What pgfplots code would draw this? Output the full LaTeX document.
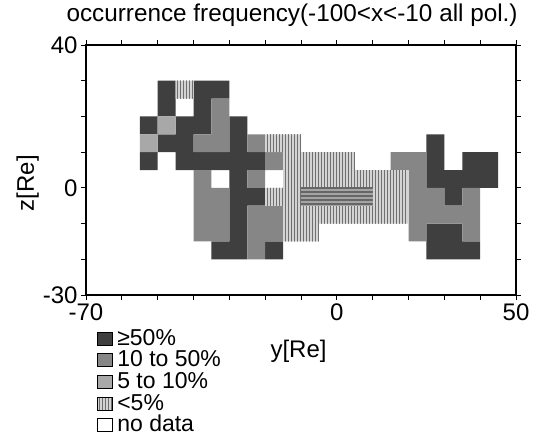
\documentclass[border=0pt]{standalone}
\usepackage{fontspec}
\setmainfont{Liberation Sans}
\usepackage{pgfplots}
\pgfplotsset{compat=1.18}
\usetikzlibrary{patterns}
\definecolor{cA}{HTML}{3F3F3F}
\definecolor{cB}{HTML}{868686}
\definecolor{cC}{HTML}{A8A8A8}
\definecolor{cStripeBg}{HTML}{D4D4D4}
\definecolor{cStripe}{HTML}{707070}
\definecolor{cBandBg}{HTML}{A4A4A4}
\definecolor{cBand}{HTML}{666666}
\pgfdeclarepatternformonly{vstripes}{\pgfqpoint{0bp}{-2bp}}{\pgfqpoint{3bp}{5bp}}{\pgfqpoint{3bp}{3bp}}{%
  \pgfpathrectangle{\pgfqpoint{0bp}{-2bp}}{\pgfqpoint{1.3bp}{7bp}}\pgfusepath{fill}}
\pgfdeclarepatternformonly{hstripes}{\pgfqpoint{-2bp}{0bp}}{\pgfqpoint{6bp}{4bp}}{\pgfqpoint{4bp}{4bp}}{%
  \pgfpathrectangle{\pgfqpoint{-2bp}{0bp}}{\pgfqpoint{8bp}{1.5bp}}\pgfusepath{fill}}
\newcommand{\fs}{\fontsize{24bp}{26bp}\selectfont}
\begin{document}
\begin{tikzpicture}
\path[use as bounding box] (0,0) rectangle (536bp,437bp);
\begin{axis}[
  at={(86bp,142bp)}, anchor=south west,
  width=430bp, height=250bp, scale only axis,
  xmin=-70, xmax=50, ymin=-30, ymax=40,
  xtick={-70,-60,...,50}, xticklabels={-70,,,,,,,0,,,,,50},
  ytick={-30,-20,...,40}, yticklabels={-30,,,0,,,,40},
  tick align=outside, major tick length=5bp,
  tick style={black, line width=0.9bp},
  axis line style={line width=1.1bp},
  tick label style={font=\fs},
  unbounded coords=jump,
  axis on top,
  title={occurrence frequency(-100<x<-10 all pol.)},
  title style={font=\fontsize{24.3bp}{26bp}\selectfont, at={(axis description cs:-0.0535,1)}, anchor=base west, yshift=18bp},
  xlabel={y[Re]},
  xlabel style={font=\fs, at={(axis description cs:0.421,0)}, anchor=base west, yshift=-62bp},
  ylabel={z[Re]},
  ylabel style={font=\fs, at={(axis description cs:0,0.448)}, anchor=base, yshift=52bp},
  legend image code/.code={\draw[#1, draw=black, line width=0.8bp] (0bp,0bp) rectangle (15bp,13bp);},
  legend style={font=\fontsize{23bp}{25bp}\selectfont, at={(axis description cs:0.0256,0)}, anchor=north west, yshift=-33bp,
    draw=none, fill=none, inner sep=0pt, outer sep=0pt, row sep=4.2bp, column sep=4bp,
    nodes={text height=16.5bp, text depth=0bp, inner sep=0.5bp},
    cells={anchor=base west}},
]
% >= 50%
\addplot[fill=cA, draw=none, forget plot] coordinates {
(-55,15)(-50,15)(-50,20)(-55,20) (nan,nan)
(-55,5)(-50,5)(-50,10)(-55,10) (nan,nan)
(-50,20)(-45,20)(-45,30)(-50,30) (nan,nan)
(-50,10)(-45,10)(-45,15)(-50,15) (nan,nan)
(-45,5)(-40,5)(-40,20)(-45,20) (nan,nan)
(-40,15)(-35,15)(-35,30)(-40,30) (nan,nan)
(-40,5)(-35,5)(-35,10)(-40,10) (nan,nan)
(-35,25)(-30,25)(-30,30)(-35,30) (nan,nan)
(-35,5)(-30,5)(-30,10)(-35,10) (nan,nan)
(-35,-20)(-30,-20)(-30,-15)(-35,-15) (nan,nan)
(-30,-20)(-25,-20)(-25,20)(-30,20) (nan,nan)
(-25,5)(-20,5)(-20,10)(-25,10) (nan,nan)
(-25,-5)(-20,-5)(-20,0)(-25,0) (nan,nan)
(-20,-20)(-15,-20)(-15,-15)(-20,-15) (nan,nan)
(25,0)(30,0)(30,15)(25,15) (nan,nan)
(25,-20)(35,-20)(35,-10)(25,-10) (nan,nan)
(30,-5)(35,-5)(35,5)(30,5) (nan,nan)
(35,0)(45,0)(45,10)(35,10) (nan,nan)
(35,-20)(40,-20)(40,-15)(35,-15)
};
% 10 to 50%
\addplot[fill=cB, draw=none, forget plot] coordinates {
(-40,-15)(-30,-15)(-30,0)(-40,0) (nan,nan)
(-40,0)(-35,0)(-35,5)(-40,5) (nan,nan)
(-40,10)(-35,10)(-35,15)(-40,15) (nan,nan)
(-35,10)(-30,10)(-30,25)(-35,25) (nan,nan)
(-25,10)(-20,10)(-20,15)(-25,15) (nan,nan)
(-25,0)(-20,0)(-20,5)(-25,5) (nan,nan)
(-25,-20)(-20,-20)(-20,-5)(-25,-5) (nan,nan)
(-20,5)(-15,5)(-15,10)(-20,10) (nan,nan)
(-20,-15)(-15,-15)(-15,-5)(-20,-5) (nan,nan)
(15,5)(20,5)(20,10)(15,10) (nan,nan)
(20,-15)(25,-15)(25,10)(20,10) (nan,nan)
(25,-10)(30,-10)(30,0)(25,0) (nan,nan)
(30,-10)(35,-10)(35,-5)(30,-5) (nan,nan)
(35,-15)(40,-15)(40,0)(35,0)
};
% 5 to 10%
\addplot[fill=cC, draw=none, forget plot] coordinates {
(-55,10)(-50,10)(-50,15)(-55,15) (nan,nan)
(-50,15)(-45,15)(-45,20)(-50,20)
};
% <5%
\addplot[fill=cStripeBg, draw=none, postaction={pattern=vstripes, pattern color=cStripe}, forget plot] coordinates {
(-45,25)(-40,25)(-40,30)(-45,30) (nan,nan)
(-20,10)(-15,10)(-15,15)(-20,15) (nan,nan)
(-20,-5)(-15,-5)(-15,0)(-20,0) (nan,nan)
(-15,-15)(-10,-15)(-10,15)(-15,15) (nan,nan)
(-10,-15)(-5,-15)(-5,-10)(-10,-10) (nan,nan)
(-10,-10)(20,-10)(20,-5)(-10,-5) (nan,nan)
(-10,0)(10,0)(10,5)(-10,5) (nan,nan)
(-10,5)(5,5)(5,10)(-10,10) (nan,nan)
(10,-5)(20,-5)(20,5)(10,5)
};
% horizontal band
\addplot[fill=cBandBg, draw=none, postaction={pattern=hstripes, pattern color=cBand}, forget plot] coordinates {
(-10,-5)(10,-5)(10,0)(-10,0)
};
\addlegendimage{fill=cA}
\addlegendentry{≥50\%}
\addlegendimage{fill=cB}
\addlegendentry{10 to 50\%}
\addlegendimage{fill=cC}
\addlegendentry{5 to 10\%}
\addlegendimage{fill=cStripeBg, postaction={pattern=vstripes, pattern color=cStripe}}
\addlegendentry{<5\%}
\addlegendimage{fill=white}
\addlegendentry{no data}
\end{axis}
\end{tikzpicture}
\end{document}
